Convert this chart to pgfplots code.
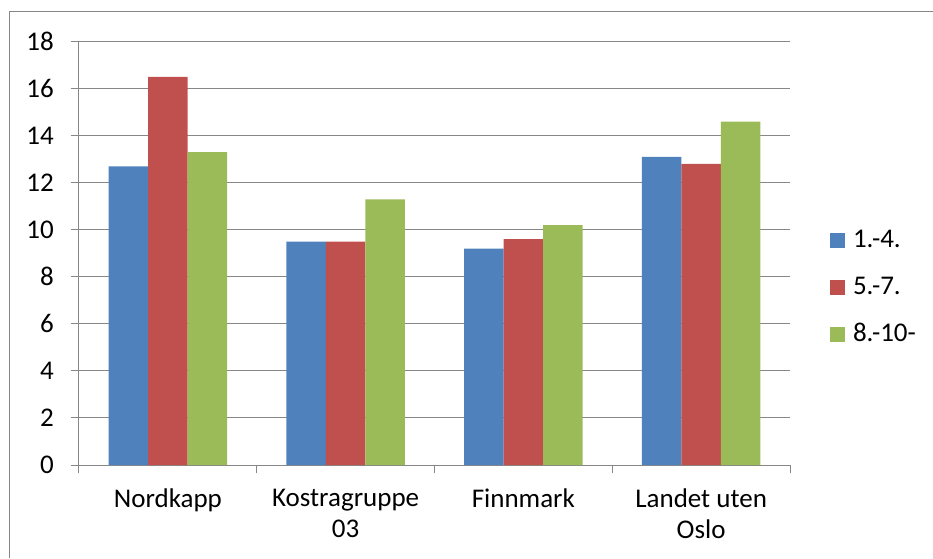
\documentclass[border=0pt]{standalone}
\usepackage{fontspec}
\setmainfont{Carlito}
\usepackage{pgfplots}
\pgfplotsset{compat=1.18}
\definecolor{sA}{HTML}{4F81BD}
\definecolor{sB}{HTML}{C0504D}
\definecolor{sC}{HTML}{9BBB59}
\definecolor{gridc}{HTML}{878787}
\newcommand{\cf}{\fontsize{27}{31}\selectfont}
\begin{document}
\begin{tikzpicture}
\useasboundingbox (-79pt,-93pt) rectangle (854pt,465pt);
\draw[gridc, line width=1pt] (-69pt,-93pt) -- (-69pt,453pt) -- (854pt,453pt);
\begin{axis}[
  at={(0pt,0pt)}, anchor=south west,
  scale only axis, width=711pt, height=423.3pt,
  xmin=0, xmax=4, ymin=0, ymax=18,
  enlargelimits=false,
  ybar=0pt, bar width=39.5pt,
  axis x line*=bottom, axis y line*=left,
  axis line style={gridc, line width=1pt, -},
  ytick={0,2,...,18}, ymajorgrids,
  grid style={gridc, line width=1pt},
  xtick={0.5,1.5,2.5,3.5},
  xticklabels={Nordkapp,{Kostragruppe\\03},Finnmark,{Landet uten\\Oslo}},
  minor xtick={0,1,2,3,4},
  tick align=outside, major tick length=8pt, minor tick length=8pt,
  tick style={gridc, line width=1pt},
  major x tick style={draw=none},
  /pgf/number format/assume math mode=true,
  y tick label style={font=\cf, inner sep=0pt, anchor=east, xshift=-17pt},
  x tick label style={font=\cf, inner sep=0pt, anchor=north, align=center, yshift=-16pt},
  legend style={at={(1.056,0.423)}, anchor=west, draw=none, fill=none,
    font=\cf, inner sep=0pt, row sep=29pt,
    nodes={inner sep=0pt, text height=17.5pt, text depth=0pt},
    /tikz/every odd column/.append style={column sep=8pt}},
  legend cell align=left,
]
\addplot[fill=sA, draw=none, legend image code/.code={\fill[sA] (0pt,-9pt) rectangle (15pt,6pt);}]
  coordinates {(0.5,12.7) (1.5,9.5) (2.5,9.2) (3.5,13.1)};
\addplot[fill=sB, draw=none, legend image code/.code={\fill[sB] (0pt,-9pt) rectangle (15pt,6pt);}]
  coordinates {(0.5,16.5) (1.5,9.5) (2.5,9.6) (3.5,12.8)};
\addplot[fill=sC, draw=none, legend image code/.code={\fill[sC] (0pt,-9pt) rectangle (15pt,6pt);}]
  coordinates {(0.5,13.3) (1.5,11.3) (2.5,10.2) (3.5,14.6)};
\legend{1.-4.,5.-7.,8.-10-}
\end{axis}
\end{tikzpicture}
\end{document}
